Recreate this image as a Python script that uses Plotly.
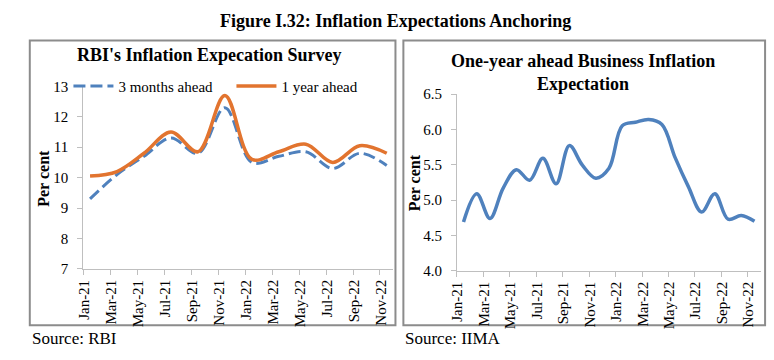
import plotly.graph_objects as go

# ---------------- data ----------------
months = ["Jan-21", "Feb-21", "Mar-21", "Apr-21", "May-21", "Jun-21", "Jul-21", "Aug-21",
          "Sep-21", "Oct-21", "Nov-21", "Dec-21", "Jan-22", "Feb-22", "Mar-22", "Apr-22",
          "May-22", "Jun-22", "Jul-22", "Aug-22", "Sep-22", "Oct-22", "Nov-22"]
tick_labels = ["Jan-21", "Mar-21", "May-21", "Jul-21", "Sep-21", "Nov-21",
               "Jan-22", "Mar-22", "May-22", "Jul-22", "Sep-22", "Nov-22"]
survey_months = ["Jan-21", "Mar-21", "May-21", "Jul-21", "Sep-21", "Nov-21",
                 "Jan-22", "Mar-22", "May-22", "Jul-22", "Sep-22", "Nov-22"]
three_months_ahead = [9.3, 10.1, 10.7, 11.3, 10.8, 12.3, 10.5, 10.7, 10.85, 10.3, 10.8, 10.4]
one_year_ahead = [10.05, 10.2, 10.8, 11.5, 10.85, 12.7, 10.6, 10.85, 11.1, 10.5, 11.05, 10.8]
business_expectation = [4.69, 5.09, 4.74, 5.17, 5.43, 5.28, 5.59, 5.23, 5.77, 5.49, 5.31, 5.45,
                        6.05, 6.10, 6.14, 6.07, 5.60, 5.19, 4.83, 5.09, 4.73, 4.78, 4.70]

W, H = 774, 360
SERIF = "Liberation Serif, Times New Roman, serif"
AX_GRAY = "#BFBFBF"
BOX_GRAY = "#8C8C8C"
BLUE = "#4F81BD"
ORANGE = "#E2742F"


def fx(px):
    return px / W


def fy(py):
    return 1 - py / H


month_idx = {m: i for i, m in enumerate(months)}
survey_x = [month_idx[m] for m in survey_months]
all_x = list(range(len(months)))
tick_x = [month_idx[m] for m in tick_labels]

fig = go.Figure()
fig.add_trace(go.Scatter(
    x=survey_x, y=three_months_ahead, name="3 months ahead", mode="lines",
    line=dict(color=BLUE, width=3, dash="12px,5px", shape="spline", smoothing=1),
    xaxis="x", yaxis="y"))
fig.add_trace(go.Scatter(
    x=survey_x, y=one_year_ahead, name="1 year ahead", mode="lines",
    line=dict(color=ORANGE, width=3.5, shape="spline", smoothing=1),
    xaxis="x", yaxis="y"))
fig.add_trace(go.Scatter(
    x=all_x, y=business_expectation, name="Business", mode="lines", showlegend=False,
    line=dict(color=BLUE, width=3.5, shape="spline", smoothing=1),
    xaxis="x2", yaxis="y2"))

xcommon = dict(range=[-0.5, len(months) - 0.5], tickmode="array", tickvals=tick_x,
               ticktext=tick_labels, tickangle=-90, ticks="", showline=True,
               linecolor=AX_GRAY, linewidth=1, showgrid=False, zeroline=False,
               ticklabelshift=-6, ticklabelstandoff=4,
               tickfont=dict(family=SERIF, size=15, color="#000"),
               minor=dict(tick0=-0.5, dtick=2, ticks="outside", ticklen=5,
                          tickcolor=AX_GRAY, tickwidth=1, showgrid=False))
ycommon = dict(showline=True, linecolor=AX_GRAY, linewidth=1, ticks="outside", ticklen=5,
               tickcolor=AX_GRAY, showgrid=False, zeroline=False, ticklabelstandoff=6,
               tickfont=dict(family=SERIF, size=15, color="#000"))

fig.update_layout(
    width=W, height=H, margin=dict(l=0, r=0, t=0, b=0),
    paper_bgcolor="white", plot_bgcolor="white",
    xaxis=dict(domain=[fx(77), fx(390)], anchor="y", **xcommon),
    yaxis=dict(domain=[fy(273), fy(82)], anchor="x", range=[7, 13], dtick=1, **ycommon),
    xaxis2=dict(domain=[fx(454), fx(761)], anchor="y2", **xcommon),
    yaxis2=dict(domain=[fy(275), fy(90)], anchor="x2", range=[4, 6.5], dtick=0.5,
                tickformat=".1f", **ycommon),
    legend=dict(orientation="h", x=fx(62), y=fy(82), xanchor="left", yanchor="middle",
                font=dict(family=SERIF, size=15, color="#000"), bgcolor="rgba(255,255,255,0)",
                itemwidth=40, entrywidth=108, entrywidthmode="pixels", borderwidth=0),
    showlegend=True,
)

shapes = [
    dict(type="rect", xref="paper", yref="paper", x0=fx(23), x1=fx(392), y0=fy(332), y1=fy(34),
         line=dict(color=BOX_GRAY, width=2), fillcolor="rgba(0,0,0,0)", layer="below"),
    dict(type="rect", xref="paper", yref="paper", x0=fx(400), x1=fx(765), y0=fy(332), y1=fy(34),
         line=dict(color=BOX_GRAY, width=2), fillcolor="rgba(0,0,0,0)", layer="below"),
]
fig.update_layout(shapes=shapes)

ann = [
    dict(text="<b>Figure I.32: Inflation Expectations Anchoring</b>", x=fx(392), y=fy(14),
         font=dict(family=SERIF, size=18, color="#000")),
    dict(text="<b>RBI's Inflation Expecation Survey</b>", x=fx(204), y=fy(49),
         font=dict(family=SERIF, size=18, color="#000")),
    dict(text="<b>One-year ahead Business Inflation<br>Expectation</b>", x=fx(581), y=fy(67),
         font=dict(family=SERIF, size=18, color="#000")),
    dict(text="<b>Per cent</b>", x=fx(36), y=fy(178), textangle=-90,
         font=dict(family=SERIF, size=16, color="#000")),
    dict(text="<b>Per cent</b>", x=fx(412), y=fy(183), textangle=-90,
         font=dict(family=SERIF, size=16, color="#000")),
    dict(text="Source: RBI", x=fx(23), y=fy(346), xanchor="left",
         font=dict(family=SERIF, size=17, color="#000")),
    dict(text="Source: IIMA", x=fx(400), y=fy(346), xanchor="left",
         font=dict(family=SERIF, size=17, color="#000")),
]
for a in ann:
    a.setdefault("xanchor", "center")
    a.update(xref="paper", yref="paper", yanchor="middle", showarrow=False)
fig.update_layout(annotations=ann)

post = ("document.documentElement.style.margin='0px';"
        "document.body.style.margin='0px';document.body.style.padding='0px';"
        "var d=document.getElementById('{plot_id}');"
        "d.style.position='absolute';d.style.left='0px';d.style.top='0px';")
fig.write_html("out.html", config={"displayModeBar": False}, post_script=post)
